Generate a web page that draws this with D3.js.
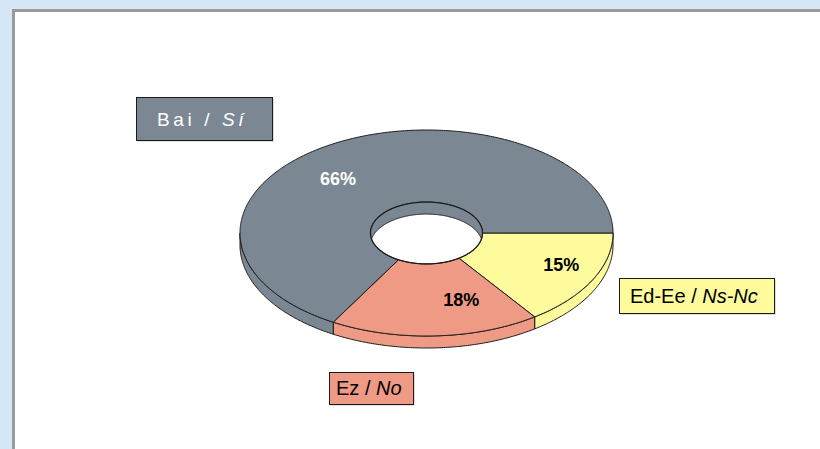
<!DOCTYPE html>
<html>
<head>
<meta charset="utf-8">
<script src="https://cdn.jsdelivr.net/npm/d3@7"></script>
<style>
  html, body { margin: 0; padding: 0; background: #d5e7f5; }
  svg { display: block; font-family: "Liberation Sans", Arial, sans-serif; }
</style>
</head>
<body>
<div id="chart"></div>
<script>
// slices listed clockwise, starting at 3 o'clock
const categories = ['Ed-Ee / Ns-Nc', 'Ez / No', 'Bai / Sí'];
const values = [15, 18, 66];
const percentLabels = ['15%', '18%', '66%'];
const colors = ['#fdfb9b', '#ef9a85', '#7b8893'];

const width = 820, height = 449;
const cx = 426.5, cy = 233;
const rOuter = 186.5, rInner = 56;
const squash = 103 / 186.5;   // tilt of the disc
const depth = 12;

const svg = d3.select('#chart').append('svg')
  .attr('width', width)
  .attr('height', height);

// panel
svg.append('rect').attr('x', 12).attr('y', 9).attr('width', width).attr('height', height)
  .attr('fill', '#9a9a9a');
svg.append('rect').attr('x', 15).attr('y', 12).attr('width', width).attr('height', height)
  .attr('fill', '#ffffff');

const pie = d3.pie().sort(null).startAngle(0).endAngle(2 * Math.PI);
const arcs = pie(values);

// point on the tilted disc; angle measured clockwise on screen from 3 o'clock
function pt(t, r, dy) {
  return [cx + r * Math.cos(t), cy + r * squash * Math.sin(t) + (dy || 0)];
}
function arcPts(t0, t1, r, dy) {
  const n = Math.max(2, Math.ceil(Math.abs(t1 - t0) / 0.01));
  return d3.range(n + 1).map(i => pt(t0 + (t1 - t0) * i / n, r, dy));
}
const line = d3.line().curve(d3.curveLinear);

// outer side walls (front half only)
arcs.forEach((d, i) => {
  const a = Math.max(d.startAngle, 0), b = Math.min(d.endAngle, Math.PI);
  if (a >= b) return;
  const p = arcPts(a, b, rOuter, 0).concat(arcPts(b, a, rOuter, depth));
  svg.append('path')
    .attr('d', line(p) + 'Z')
    .attr('fill', colors[i])
    .attr('stroke', '#1a1a1a')
    .attr('stroke-width', 1)
    .attr('stroke-linejoin', 'round');
});

// top faces
arcs.forEach((d, i) => {
  const p = arcPts(d.startAngle, d.endAngle, rOuter, 0)
    .concat(arcPts(d.endAngle, d.startAngle, rInner, 0));
  svg.append('path')
    .attr('d', line(p) + 'Z')
    .attr('fill', colors[i])
    .attr('stroke', '#1a1a1a')
    .attr('stroke-width', 1)
    .attr('stroke-linejoin', 'round');
});

// hole with visible inner wall at the back
const holePath = line(arcPts(0, 2 * Math.PI, rInner, 0)) + 'Z';
const shiftedPath = line(arcPts(0, 2 * Math.PI, rInner, depth)) + 'Z';
svg.append('clipPath').attr('id', 'hole').append('path').attr('d', holePath);
const hole = svg.append('g').attr('clip-path', 'url(#hole)');
hole.append('path')
  .attr('d', holePath + shiftedPath)
  .attr('fill-rule', 'evenodd')
  .attr('fill', colors[2]);
hole.append('path')
  .attr('d', line(arcPts(Math.PI, 2 * Math.PI, rInner, depth)))
  .attr('fill', 'none')
  .attr('stroke', '#1a1a1a')
  .attr('stroke-width', 1);
svg.append('path')
  .attr('d', holePath)
  .attr('fill', 'none')
  .attr('stroke', '#1a1a1a')
  .attr('stroke-width', 1.2);

// percent labels: [angle in degrees, radius fraction]
const labelAt = [[23, 0.785], [74, 0.676], [228, 0.71]];
const textColors = ['#000000', '#000000', '#ffffff'];
arcs.forEach((d, i) => {
  const [x, y] = pt(labelAt[i][0] * Math.PI / 180, rOuter * labelAt[i][1], 0);
  svg.append('text')
    .attr('x', x).attr('y', y + 6.5)
    .attr('text-anchor', 'middle')
    .attr('font-size', 18)
    .attr('font-weight', 'bold')
    .attr('fill', textColors[i])
    .text(percentLabels[i]);
});

// category boxes
const boxes = [
  { x: 619, y: 278, w: 155, h: 35, size: 20, spacing: 0, tx: 630, ty: 303 },
  { x: 329, y: 372, w: 84, h: 32, size: 20, spacing: 0, tx: 336, ty: 395 },
  { x: 136, y: 97, w: 136, h: 43, size: 19, spacing: 3.6, tx: 157, ty: 126 }
];
const boxText = ['#000000', '#000000', '#ffffff'];
boxes.forEach((b, i) => {
  svg.append('rect')
    .attr('x', b.x + 1.5).attr('y', b.y + 1.5).attr('width', b.w).attr('height', b.h)
    .attr('fill', '#bdbdbd');
  svg.append('rect')
    .attr('x', b.x + 0.5).attr('y', b.y + 0.5).attr('width', b.w).attr('height', b.h)
    .attr('fill', colors[i])
    .attr('stroke', '#1a1a1a')
    .attr('stroke-width', 1);
  const parts = categories[i].split(' / ');
  const t = svg.append('text')
    .attr('x', b.tx).attr('y', b.ty)
    .attr('font-size', b.size)
    .attr('letter-spacing', b.spacing)
    .attr('fill', boxText[i]);
  t.append('tspan').text(parts[0] + ' / ');
  t.append('tspan').attr('font-style', 'italic').text(parts[1]);
});
</script>
</body>
</html>
